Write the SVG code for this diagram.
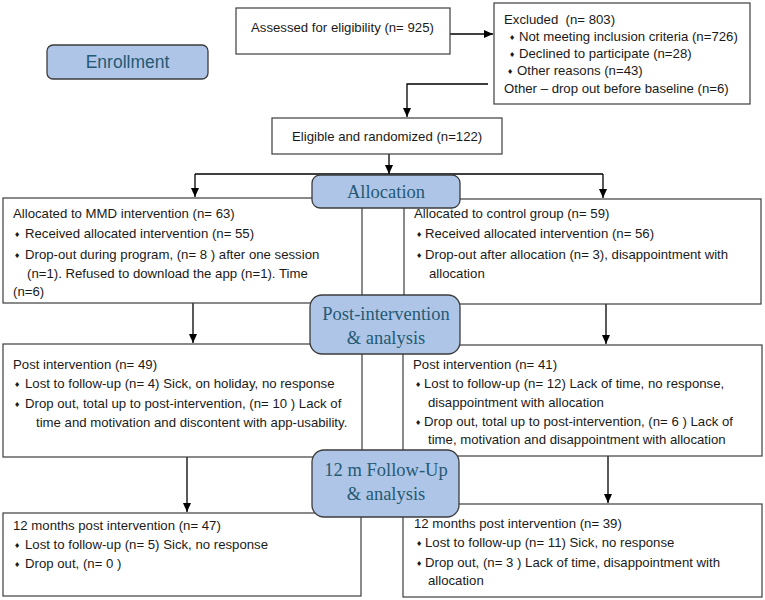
<svg xmlns="http://www.w3.org/2000/svg" width="765" height="600" viewBox="0 0 765 600">
<style>
.box{fill:#fff;stroke:#3c3c3c;stroke-width:1.2}
.phase{fill:#aec5e7;stroke:#3c3c3c;stroke-width:1.3}
.t{font-family:"Liberation Sans",Arial,sans-serif;font-size:13.2px;fill:#1a1a1a;white-space:pre}
.b{font-family:"DejaVu Sans",sans-serif;font-size:7px;fill:#1a1a1a}
.ph{font-family:"Liberation Serif","Times New Roman",serif;font-size:18.5px;fill:#245a73;text-anchor:middle}
.en{font-family:"Liberation Sans",Arial,sans-serif;font-size:17.5px;fill:#245a73;text-anchor:middle}
.c{fill:none;stroke:#000;stroke-width:1.3}
</style>
<defs>
<marker id="ah" markerUnits="userSpaceOnUse" markerWidth="10" markerHeight="10" refX="9" refY="4" orient="auto">
<path d="M0,0 L9,4 L0,8 z" fill="#000"/>
</marker>
</defs>

<g id="connectors">
<path class="c" d="M450,34 H493" marker-end="url(#ah)"/>
<path class="c" d="M488,84 H407 V117" marker-end="url(#ah)"/>
<path class="c" d="M389,154 V174" marker-end="url(#ah)"/>
<path class="c" d="M195,174 H603 M195,174 V197" marker-end="url(#ah)"/>
<path class="c" d="M603,174 V198" marker-end="url(#ah)"/>
<path class="c" d="M193,296 V343" marker-end="url(#ah)"/>
<path class="c" d="M606,296 V344" marker-end="url(#ah)"/>
<path class="c" d="M187,447 V512" marker-end="url(#ah)"/>
<path class="c" d="M608,452 V503" marker-end="url(#ah)"/>
</g>

<g id="enrollment">
<rect class="phase" x="47" y="45" width="161" height="34" rx="6"/>
<text class="en" x="127.5" y="68">Enrollment</text>
</g>

<g id="assessed">
<rect class="box" x="236" y="8" width="214" height="46"/>
<text class="t" x="251" y="32">Assessed for eligibility (n= 925)</text>
</g>

<g id="excluded">
<rect class="box" x="494" y="3" width="256" height="101"/>
<text class="t" x="504" y="24" xml:space="preserve">Excluded  (n= 803)</text>
<text class="b" x="509" y="40">♦</text><text class="t" x="519" y="41">Not meeting inclusion criteria (n=726)</text>
<text class="b" x="509" y="57">♦</text><text class="t" x="519" y="58">Declined to participate (n=28)</text>
<text class="b" x="507" y="74">♦</text><text class="t" x="517" y="75">Other reasons (n=43)</text>
<text class="t" x="504" y="93">Other – drop out before baseline (n=6)</text>
</g>

<g id="eligible">
<rect class="box" x="272" y="118" width="230" height="36"/>
<text class="t" x="292" y="141">Eligible and randomized (n=122)</text>
</g>

<g id="alloc-left">
<rect class="box" x="3" y="198" width="359" height="105"/>
<text class="t" x="13" y="218">Allocated to MMD intervention (n= 63)</text>
<text class="b" x="14" y="237">♦</text><text class="t" x="25" y="238">Received allocated intervention (n= 55)</text>
<text class="b" x="14" y="258">♦</text><text class="t" x="25" y="259">Drop-out during program, (n= 8 ) after one session</text>
<text class="t" x="27" y="278">(n=1). Refused to download the app (n=1). Time</text>
<text class="t" x="13" y="296">(n=6)</text>
</g>

<g id="alloc-right">
<rect class="box" x="404" y="199" width="357" height="105"/>
<text class="t" x="414" y="218">Allocated to control group (n= 59)</text>
<text class="b" x="416" y="237">♦</text><text class="t" x="425" y="238">Received allocated intervention (n= 56)</text>
<text class="b" x="416" y="258">♦</text><text class="t" x="425" y="259">Drop-out after allocation (n= 3), disappointment with</text>
<text class="t" x="429" y="278">allocation</text>
</g>

<g id="post-left">
<rect class="box" x="3" y="344" width="359" height="113"/>
<text class="t" x="13" y="369">Post intervention (n= 49)</text>
<text class="b" x="14" y="387">♦</text><text class="t" x="25" y="388">Lost to follow-up (n= 4) Sick, on holiday, no response</text>
<text class="b" x="14" y="407">♦</text><text class="t" x="25" y="408">Drop out, total up to post-intervention, (n= 10 ) Lack of</text>
<text class="t" x="36" y="427">time and motivation and discontent with app-usability.</text>
</g>

<g id="post-right">
<rect class="box" x="403" y="345" width="359" height="111"/>
<text class="t" x="413" y="369">Post intervention (n= 41)</text>
<text class="b" x="415" y="387">♦</text><text class="t" x="424" y="388">Lost to follow-up (n= 12) Lack of time, no response,</text>
<text class="t" x="428" y="407">disappointment with allocation</text>
<text class="b" x="415" y="425">♦</text><text class="t" x="424" y="426">Drop out, total up to post-intervention, (n= 6 ) Lack of</text>
<text class="t" x="428" y="444">time, motivation and disappointment with allocation</text>
</g>

<g id="fu-left">
<rect class="box" x="3" y="513" width="358" height="83"/>
<text class="t" x="13" y="530">12 months post intervention (n= 47)</text>
<text class="b" x="14" y="548">♦</text><text class="t" x="25" y="549">Lost to follow-up (n= 5) Sick, no response</text>
<text class="b" x="14" y="567">♦</text><text class="t" x="25" y="568">Drop out, (n= 0 )</text>
</g>

<g id="fu-right">
<rect class="box" x="403" y="504" width="359" height="93"/>
<text class="t" x="414" y="528">12 months post intervention (n= 39)</text>
<text class="b" x="416" y="546">♦</text><text class="t" x="425" y="547">Lost to follow-up (n= 11) Sick, no response</text>
<text class="b" x="416" y="566">♦</text><text class="t" x="425" y="567">Drop out, (n= 3 ) Lack of time, disappointment with</text>
<text class="t" x="428" y="585">allocation</text>
</g>

<g id="allocation">
<rect class="phase" x="312" y="175" width="148" height="33" rx="8"/>
<text class="ph" x="386" y="198">Allocation</text>
</g>

<g id="post-intervention">
<rect class="phase" x="310" y="295" width="150" height="59" rx="12"/>
<text class="ph" x="386" y="320">Post-intervention</text>
<text class="ph" x="386" y="344">&amp; analysis</text>
</g>

<g id="followup">
<rect class="phase" x="312" y="450" width="147" height="67" rx="12"/>
<text class="ph" x="386" y="476">12 m Follow-Up</text>
<text class="ph" x="386" y="500">&amp; analysis</text>
</g>
</svg>
